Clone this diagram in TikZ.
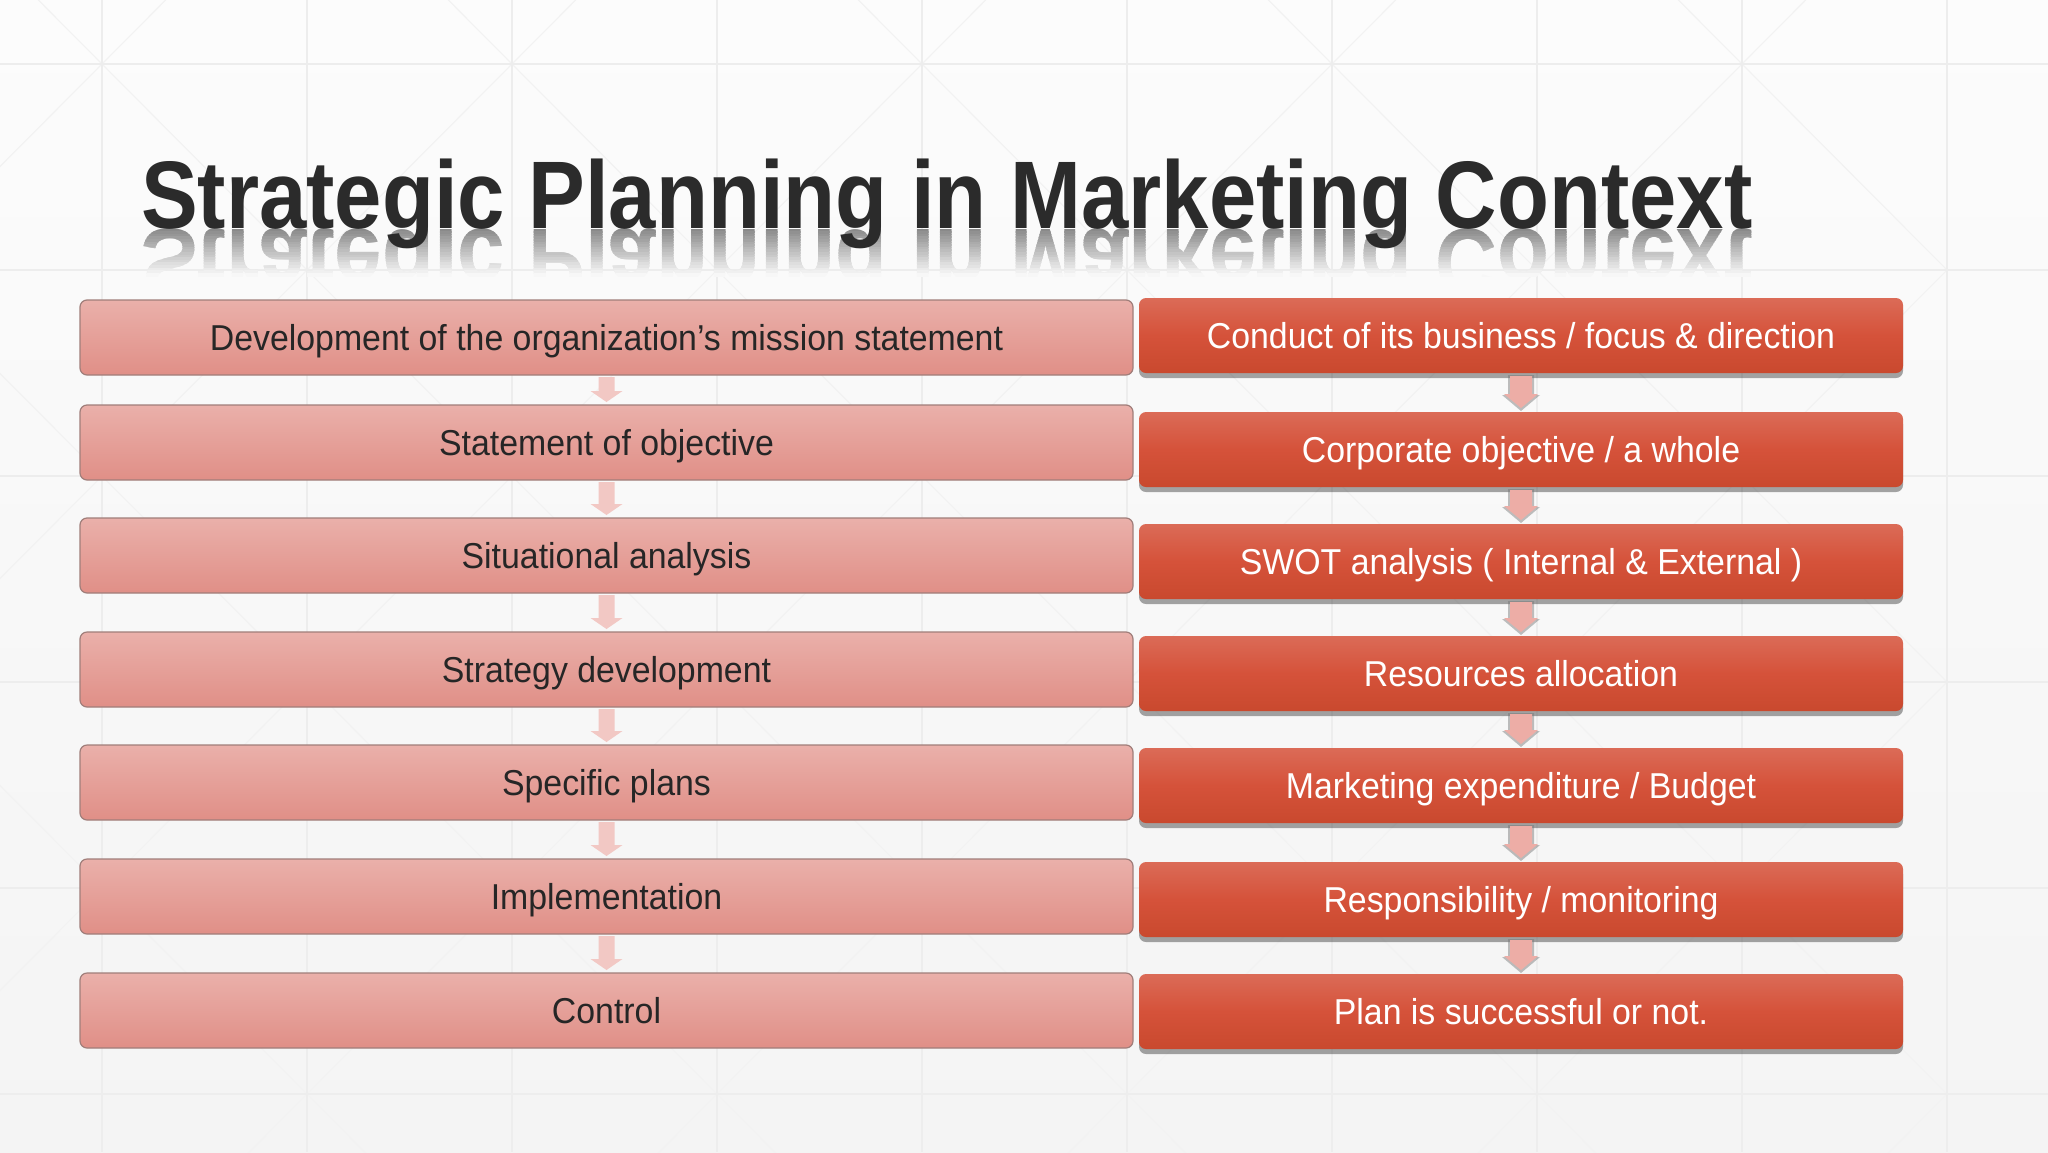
\documentclass[tikz,border=0pt]{standalone}
\usepackage{fontspec}
\setmainfont{Liberation Sans}
\newfontfamily\titlefont[FakeStretch=0.886]{Liberation Sans}
\newfontfamily\boxfont[FakeStretch=0.94]{Liberation Sans}
\usetikzlibrary{shadows,calc}
\definecolor{bgtop}{HTML}{FCFCFC}
\definecolor{bgbot}{HTML}{F4F4F4}
\definecolor{gridc}{HTML}{EDEDED}
\definecolor{diagc}{HTML}{F2F2F2}
\definecolor{titlec}{HTML}{2B2B2B}
\definecolor{ltop}{HTML}{EAB0AA}
\definecolor{lbot}{HTML}{E08F87}
\definecolor{lborder}{HTML}{A07E7A}
\definecolor{ltext}{HTML}{262626}
\definecolor{rtop}{HTML}{DB6B57}
\definecolor{rmid}{HTML}{D5523A}
\definecolor{rbot}{HTML}{C9492E}
\definecolor{larrc}{HTML}{F2C8C4}
\definecolor{rarrc}{HTML}{EDADA6}
\newcommand{\leftarr}[2]{%
  \fill[larrc] let \p1=(#1), \p2=(#2) in
    ({\x1-8pt},{\y1-2pt}) -- ({\x1+8pt},{\y1-2pt}) -- ({\x1+8pt},{\y2+14pt})
    -- ({\x1+16pt},{\y2+14pt}) -- (\x1,{\y2+3pt}) -- ({\x1-16pt},{\y2+14pt})
    -- ({\x1-8pt},{\y2+14pt}) -- cycle;}
\newcommand{\rightarr}[2]{%
  \fill[black!55,opacity=0.45] let \p1=(#1), \p2=(#2) in
    ({\x1-13pt},{\y1-2pt}) -- ({\x1+13pt},{\y1-2pt}) -- ({\x1+13pt},{\y2+17pt})
    -- ({\x1+19pt},{\y2+17pt}) -- (\x1,{\y2+1pt}) -- ({\x1-19pt},{\y2+17pt})
    -- ({\x1-13pt},{\y2+17pt}) -- cycle;
  \fill[rarrc] let \p1=(#1), \p2=(#2) in
    ({\x1-11pt},{\y1-3pt}) -- ({\x1+11pt},{\y1-3pt}) -- ({\x1+11pt},{\y2+18pt})
    -- ({\x1+17pt},{\y2+18pt}) -- (\x1,{\y2+4pt}) -- ({\x1-17pt},{\y2+18pt})
    -- ({\x1-11pt},{\y2+18pt}) -- cycle;}
\begin{document}
\begin{tikzpicture}[x=1pt,y=-1pt,
  titlestyle/.style={inner sep=0pt, outer sep=0pt, font=\titlefont\bfseries\fontsize{96}{100}\selectfont},
  gridline/.style={draw=gridc, line width=1.3pt},
  diagline/.style={draw=diagc, line width=1.1pt},
  boxtext/.style={inner sep=0pt, outer sep=0pt, minimum height=75pt, text height=28pt, text depth=2pt,
    font=\boxfont\fontsize{36}{40}\selectfont},
  lbox/.style={boxtext, draw=lborder, line width=1.2pt, rounded corners=7pt,
    top color=ltop, bottom color=lbot, minimum width=1053pt, text=ltext},
  rbox/.style={boxtext, rounded corners=7pt, top color=rtop, bottom color=rbot, middle color=rmid,
    minimum width=764pt, text=white,
    drop shadow={shadow xshift=0pt, shadow yshift=-5pt, opacity=0.35, fill=black}},
]
\useasboundingbox (0,0) rectangle (2048,1152);
% background
\fill[top color=bgtop, bottom color=bgbot] (0,0) rectangle (2048,1152);
\foreach \x in {102,512,922,1332,1742} {
  \foreach \y in {-142,270,682,1094} {
    \draw[diagline] (\x-205,\y) -- (\x+205,\y+412);
    \draw[diagline] (\x+205,\y) -- (\x-205,\y+412);
  }
}
\foreach \x in {102,307,512,717,922,1127,1332,1537,1742,1947}
  \draw[gridline] (\x,0) -- (\x,1152);
\foreach \y in {64,270,476,682,888,1094}
  \draw[gridline] (0,\y) -- (2048,\y);
% title reflection
\foreach \i in {0,...,17} {
  \pgfmathtruncatemacro\shd{46-2.5*\i}
  \begin{scope}
    \clip (100,{229+2.6*\i}) rectangle (1800,{229+2.6*\i+3.2});
    \begin{scope}[shift={(141,229)},yscale=-1]
      \node[titlestyle, text=black!\shd, transform shape, anchor=base west] (refl\i) at (0,0)
        {Strategic Planning in Marketing Context};
    \end{scope}
  \end{scope}
}
% title
\node[titlestyle, text=titlec, anchor=base west] (title) at (141,228)
  {Strategic Planning in Marketing Context};
% left column
\node[lbox] (L1) at (606.5,337.5) {Development of the organization’s mission statement};
\node[lbox] (L2) at (606.5,442.5) {Statement of objective};
\node[lbox] (L3) at (606.5,555.5) {Situational analysis};
\node[lbox] (L4) at (606.5,669.5) {Strategy development};
\node[lbox] (L5) at (606.5,782.5) {Specific plans};
\node[lbox] (L6) at (606.5,896.5) {Implementation};
\node[lbox] (L7) at (606.5,1010.5) {Control};
% right column
\node[rbox] (R1) at (1521,335.5) {Conduct of its business / focus \& direction};
\node[rbox] (R2) at (1521,449.5) {Corporate objective / a whole};
\node[rbox] (R3) at (1521,561.5) {SWOT analysis ( Internal \& External )};
\node[rbox] (R4) at (1521,673.5) {Resources allocation};
\node[rbox] (R5) at (1521,785.5) {Marketing expenditure / Budget};
\node[rbox] (R6) at (1521,899.5) {Responsibility / monitoring};
\node[rbox] (R7) at (1521,1011.5) {Plan is successful or not.};
% arrows
\leftarr{L1.south}{L2.north}
\leftarr{L2.south}{L3.north}
\leftarr{L3.south}{L4.north}
\leftarr{L4.south}{L5.north}
\leftarr{L5.south}{L6.north}
\leftarr{L6.south}{L7.north}
\rightarr{R1.south}{R2.north}
\rightarr{R2.south}{R3.north}
\rightarr{R3.south}{R4.north}
\rightarr{R4.south}{R5.north}
\rightarr{R5.south}{R6.north}
\rightarr{R6.south}{R7.north}
\end{tikzpicture}
\end{document}
